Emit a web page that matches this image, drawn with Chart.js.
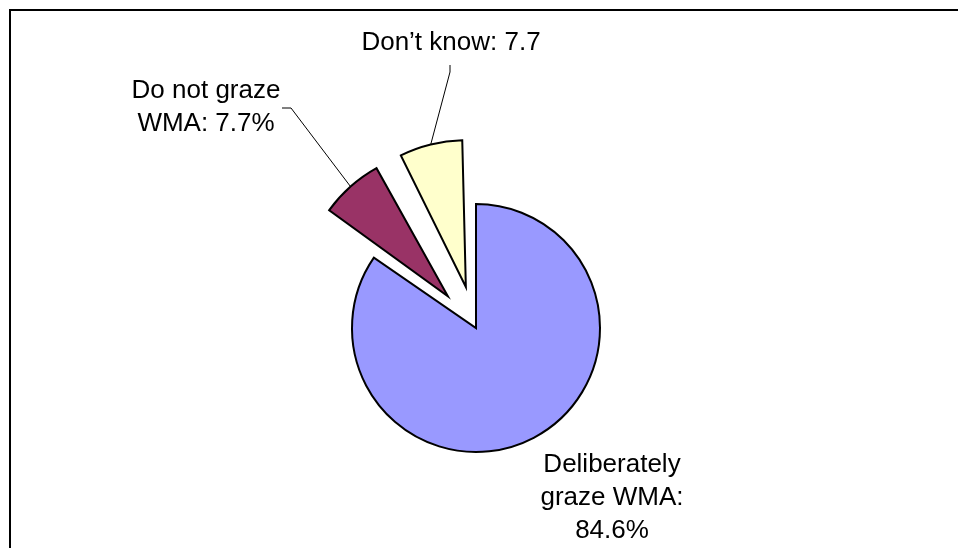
<!DOCTYPE html>
<html>
<head>
<meta charset="utf-8">
<script src="https://cdn.jsdelivr.net/npm/chart.js@4/dist/chart.umd.min.js"></script>
<style>
  html, body { margin: 0; padding: 0; background: #fff; }
  #wrap { width: 958px; height: 548px; position: relative; }
</style>
</head>
<body>
<div id="wrap"><canvas id="canvas"></canvas></div>
<script>
    // grazing survey answers
    var categories = ["Deliberately graze WMA", "Do not graze WMA", "Don\u2019t know"];
    var values = [84.6, 7.7, 7.7];
    var sliceColors = ["#9999FF", "#993366", "#FFFFCC"];
    var explode = [0, 65, 65];   // pixels each slice is pulled out

    // text shown beside each slice
    var labelLines = [
        ["Deliberately", "graze WMA:", values[0] + "%"],
        ["Do not graze", "WMA: " + values[1] + "%"],
        ["Don\u2019t know: " + values[2]]
    ];
    // label anchor (centre x, first baseline) relative to pie centre
    var labelPos = [[136, 144], [-270, -230], [-25, -278]];
    // leader line elbows relative to pie centre, null = no line
    var leaders = [null, [[-194, -220], [-185, -220]], [[-26, -263], [-26, -256]]];

    // ArcElement shifts by offset/4 * (2 - sin(circumference)), so invert that
    var total = values.reduce(function(a, b) { return a + b; }, 0);
    var arcOffsets = values.map(function(v, i) {
        var circ = v / total * Math.PI * 2;
        var k = (2 - Math.sin(Math.min(Math.PI, circ))) / 4;
        return explode[i] / k;
    });

    var frame = {
        id: 'frame',
        beforeDraw: function(chart) {
            var ctx = chart.ctx;
            ctx.save();
            ctx.fillStyle = '#fff';
            ctx.fillRect(0, 0, chart.width, chart.height);
            ctx.strokeStyle = '#000';
            ctx.lineWidth = 2;
            ctx.strokeRect(10, 10, chart.width + 20, chart.height + 20);
            ctx.restore();
        }
    };

    var sliceLabels = {
        id: 'sliceLabels',
        afterDatasetsDraw: function(chart) {
            var ctx = chart.ctx;
            var arcs = chart.getDatasetMeta(0).data;
            ctx.save();
            arcs.forEach(function(arc, i) {
                var p = arc.getProps(['x', 'y', 'startAngle', 'endAngle', 'outerRadius'], true);
                var cx = p.x, cy = p.y;

                if (leaders[i]) {
                    var mid = (p.startAngle + p.endAngle) / 2;
                    var d = explode[i] + p.outerRadius;
                    ctx.beginPath();
                    ctx.moveTo(cx + leaders[i][0][0], cy + leaders[i][0][1]);
                    ctx.lineTo(cx + leaders[i][1][0], cy + leaders[i][1][1]);
                    ctx.lineTo(cx + Math.cos(mid) * d, cy + Math.sin(mid) * d);
                    ctx.strokeStyle = '#000';
                    ctx.lineWidth = 1;
                    ctx.stroke();
                }

                ctx.fillStyle = '#000';
                ctx.font = '26px "Liberation Sans", Arial, sans-serif';
                ctx.textAlign = 'center';
                ctx.textBaseline = 'alphabetic';
                labelLines[i].forEach(function(line, k) {
                    ctx.fillText(line, cx + labelPos[i][0], cy + labelPos[i][1] + k * 33);
                });
            });
            ctx.restore();
        }
    };

    var config = {
        type: 'pie',
        data: {
            labels: categories,
            datasets: [{
                data: values,
                backgroundColor: sliceColors,
                borderColor: '#000',
                borderWidth: 2,
                borderJoinStyle: 'miter',
                offset: arcOffsets
            }]
        },
        options: {
            responsive: false,
            animation: false,
            radius: 124,
            layout: {
                padding: { left: 0, right: 6, top: 108, bottom: 0 }
            },
            plugins: {
                legend: { display: false },
                tooltip: { enabled: false }
            }
        },
        plugins: [frame, sliceLabels]
    };

    window.onload = function() {
        var canvas = document.getElementById("canvas");
        canvas.width = 958;
        canvas.height = 548;
        window.myPie = new Chart(canvas, config);
    };
</script>
</body>
</html>
